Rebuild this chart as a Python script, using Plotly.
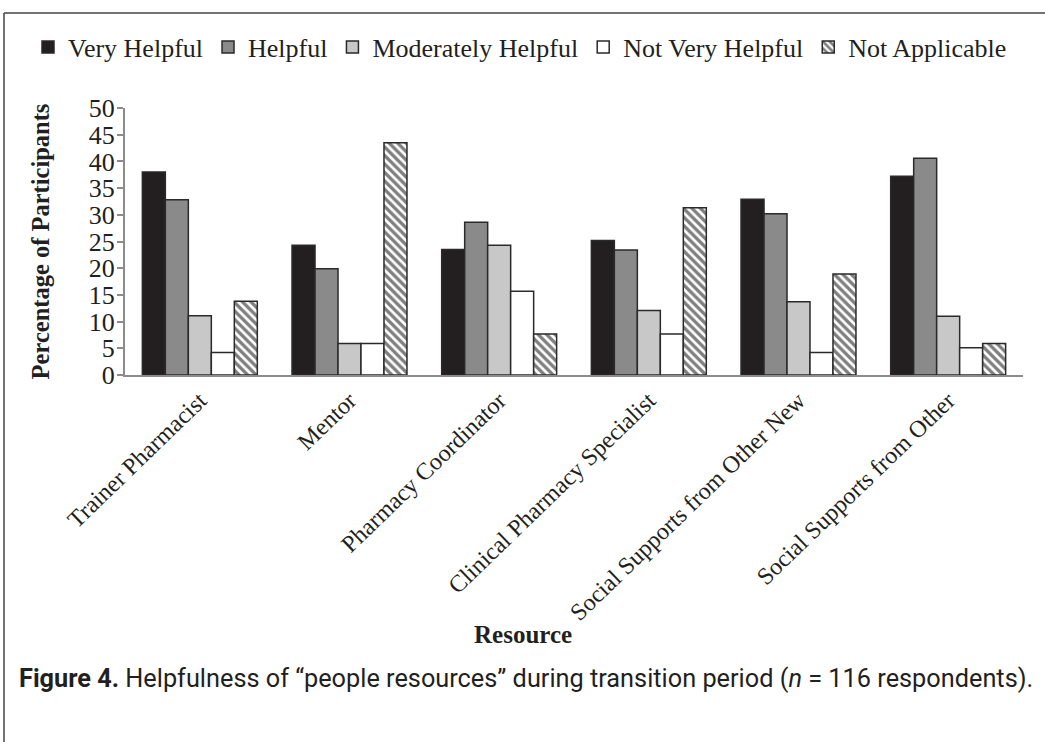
import plotly.graph_objects as go

# Resources surveyed (x categories)
resources = [
    "Trainer Pharmacist",
    "Mentor",
    "Pharmacy Coordinator",
    "Clinical Pharmacy Specialist",
    "Social Supports from Other New",
    "Social Supports from Other",
]

# Percentage of participants per rating
very_helpful = [38.0, 24.3, 23.5, 25.2, 32.9, 37.2]
helpful = [32.8, 19.9, 28.6, 23.4, 30.2, 40.6]
moderately_helpful = [11.1, 5.9, 24.3, 12.1, 13.7, 11.0]
not_very_helpful = [4.2, 5.9, 15.7, 7.7, 4.2, 5.1]
not_applicable = [13.8, 43.5, 7.7, 31.3, 18.9, 5.9]

y_ticks = [0, 5, 10, 15, 20, 25, 30, 35, 40, 45, 50]

SERIF = "Liberation Serif, Times New Roman, serif"
INK = "#231f20"
OUTLINE = dict(color="#2a2a2a", width=1.5)

series = [
    ("Very Helpful", very_helpful, "#231f20", None),
    ("Helpful", helpful, "#8a8a8a", None),
    ("Moderately Helpful", moderately_helpful, "#c8c8c8", None),
    ("Not Very Helpful", not_very_helpful, "#ffffff", None),
    ("Not Applicable", not_applicable, "#ffffff",
     dict(shape="\\", fgcolor="#000000", bgcolor="#ffffff", size=6, solidity=0.55)),
]

fig = go.Figure()
for name, vals, color, pattern in series:
    marker = dict(color=color, line=OUTLINE)
    if pattern:
        marker["pattern"] = pattern
    fig.add_trace(go.Bar(name=name, x=resources, y=vals, marker=marker))

# plot-area geometry in pixels, used for the outer frame and text placement
W, H = 1045, 742
L, R, T, B = 125, 22, 108, 367
pw, ph = W - L - R, H - T - B


def px_x(x):
    return (x - L) / pw


def px_y(y):
    return (H - B - y) / ph


frame_line = dict(color="#444444", width=1.5)
fig.add_shape(type="line", xref="paper", yref="paper",
              x0=px_x(4), x1=px_x(1050), y0=px_y(13), y1=px_y(13), line=frame_line)
fig.add_shape(type="line", xref="paper", yref="paper",
              x0=px_x(4), x1=px_x(4), y0=px_y(13), y1=px_y(750), line=frame_line)

# x-axis title
fig.add_annotation(
    xref="paper", yref="paper", x=px_x(523), y=px_y(634),
    xanchor="center", yanchor="middle", showarrow=False,
    text="<b>Resource</b>", font=dict(family=SERIF, size=25, color=INK),
)

# figure caption
fig.add_annotation(
    xref="paper", yref="paper", x=px_x(17), y=px_y(678),
    xanchor="left", yanchor="middle", showarrow=False,
    text="<b>Figure 4.</b> Helpfulness of \u201cpeople resources\u201d during transition period "
         "(<i>n</i> = 116 respondents).",
    font=dict(family="Roboto, Open Sans, sans-serif", size=25.3, color=INK),
)

fig.update_layout(
    width=W, height=H,
    margin=dict(l=L, r=R, t=T, b=B, pad=0),
    paper_bgcolor="white", plot_bgcolor="white",
    barmode="group", bargap=0.232, bargroupgap=0,
    font=dict(family=SERIF, color=INK),
    showlegend=True,
    legend=dict(
        orientation="h", x=px_x(28), y=px_y(47), xanchor="left", yanchor="middle",
        font=dict(family=SERIF, size=26, color=INK),
        itemwidth=30, traceorder="normal", tracegroupgap=0,
        bgcolor="rgba(0,0,0,0)",
    ),
    xaxis=dict(
        showline=True, linecolor="#8c8c8c", linewidth=2,
        ticks="", tickangle=-44,
        tickfont=dict(family=SERIF, size=24, color=INK),
        showgrid=False, zeroline=False,
    ),
    yaxis=dict(
        range=[0, 50], tickvals=y_ticks, showline=True, linecolor="#8c8c8c", linewidth=2,
        ticks="outside", ticklen=6, tickcolor="#8c8c8c", tickwidth=2,
        ticklabelstandoff=-3,
        tickfont=dict(family=SERIF, size=26, color=INK),
        title=dict(text="<b>Percentage of Participants</b>",
                   font=dict(family=SERIF, size=24.5, color=INK), standoff=32),
        showgrid=False, zeroline=False,
    ),
)

fig.write_html("out.html")
